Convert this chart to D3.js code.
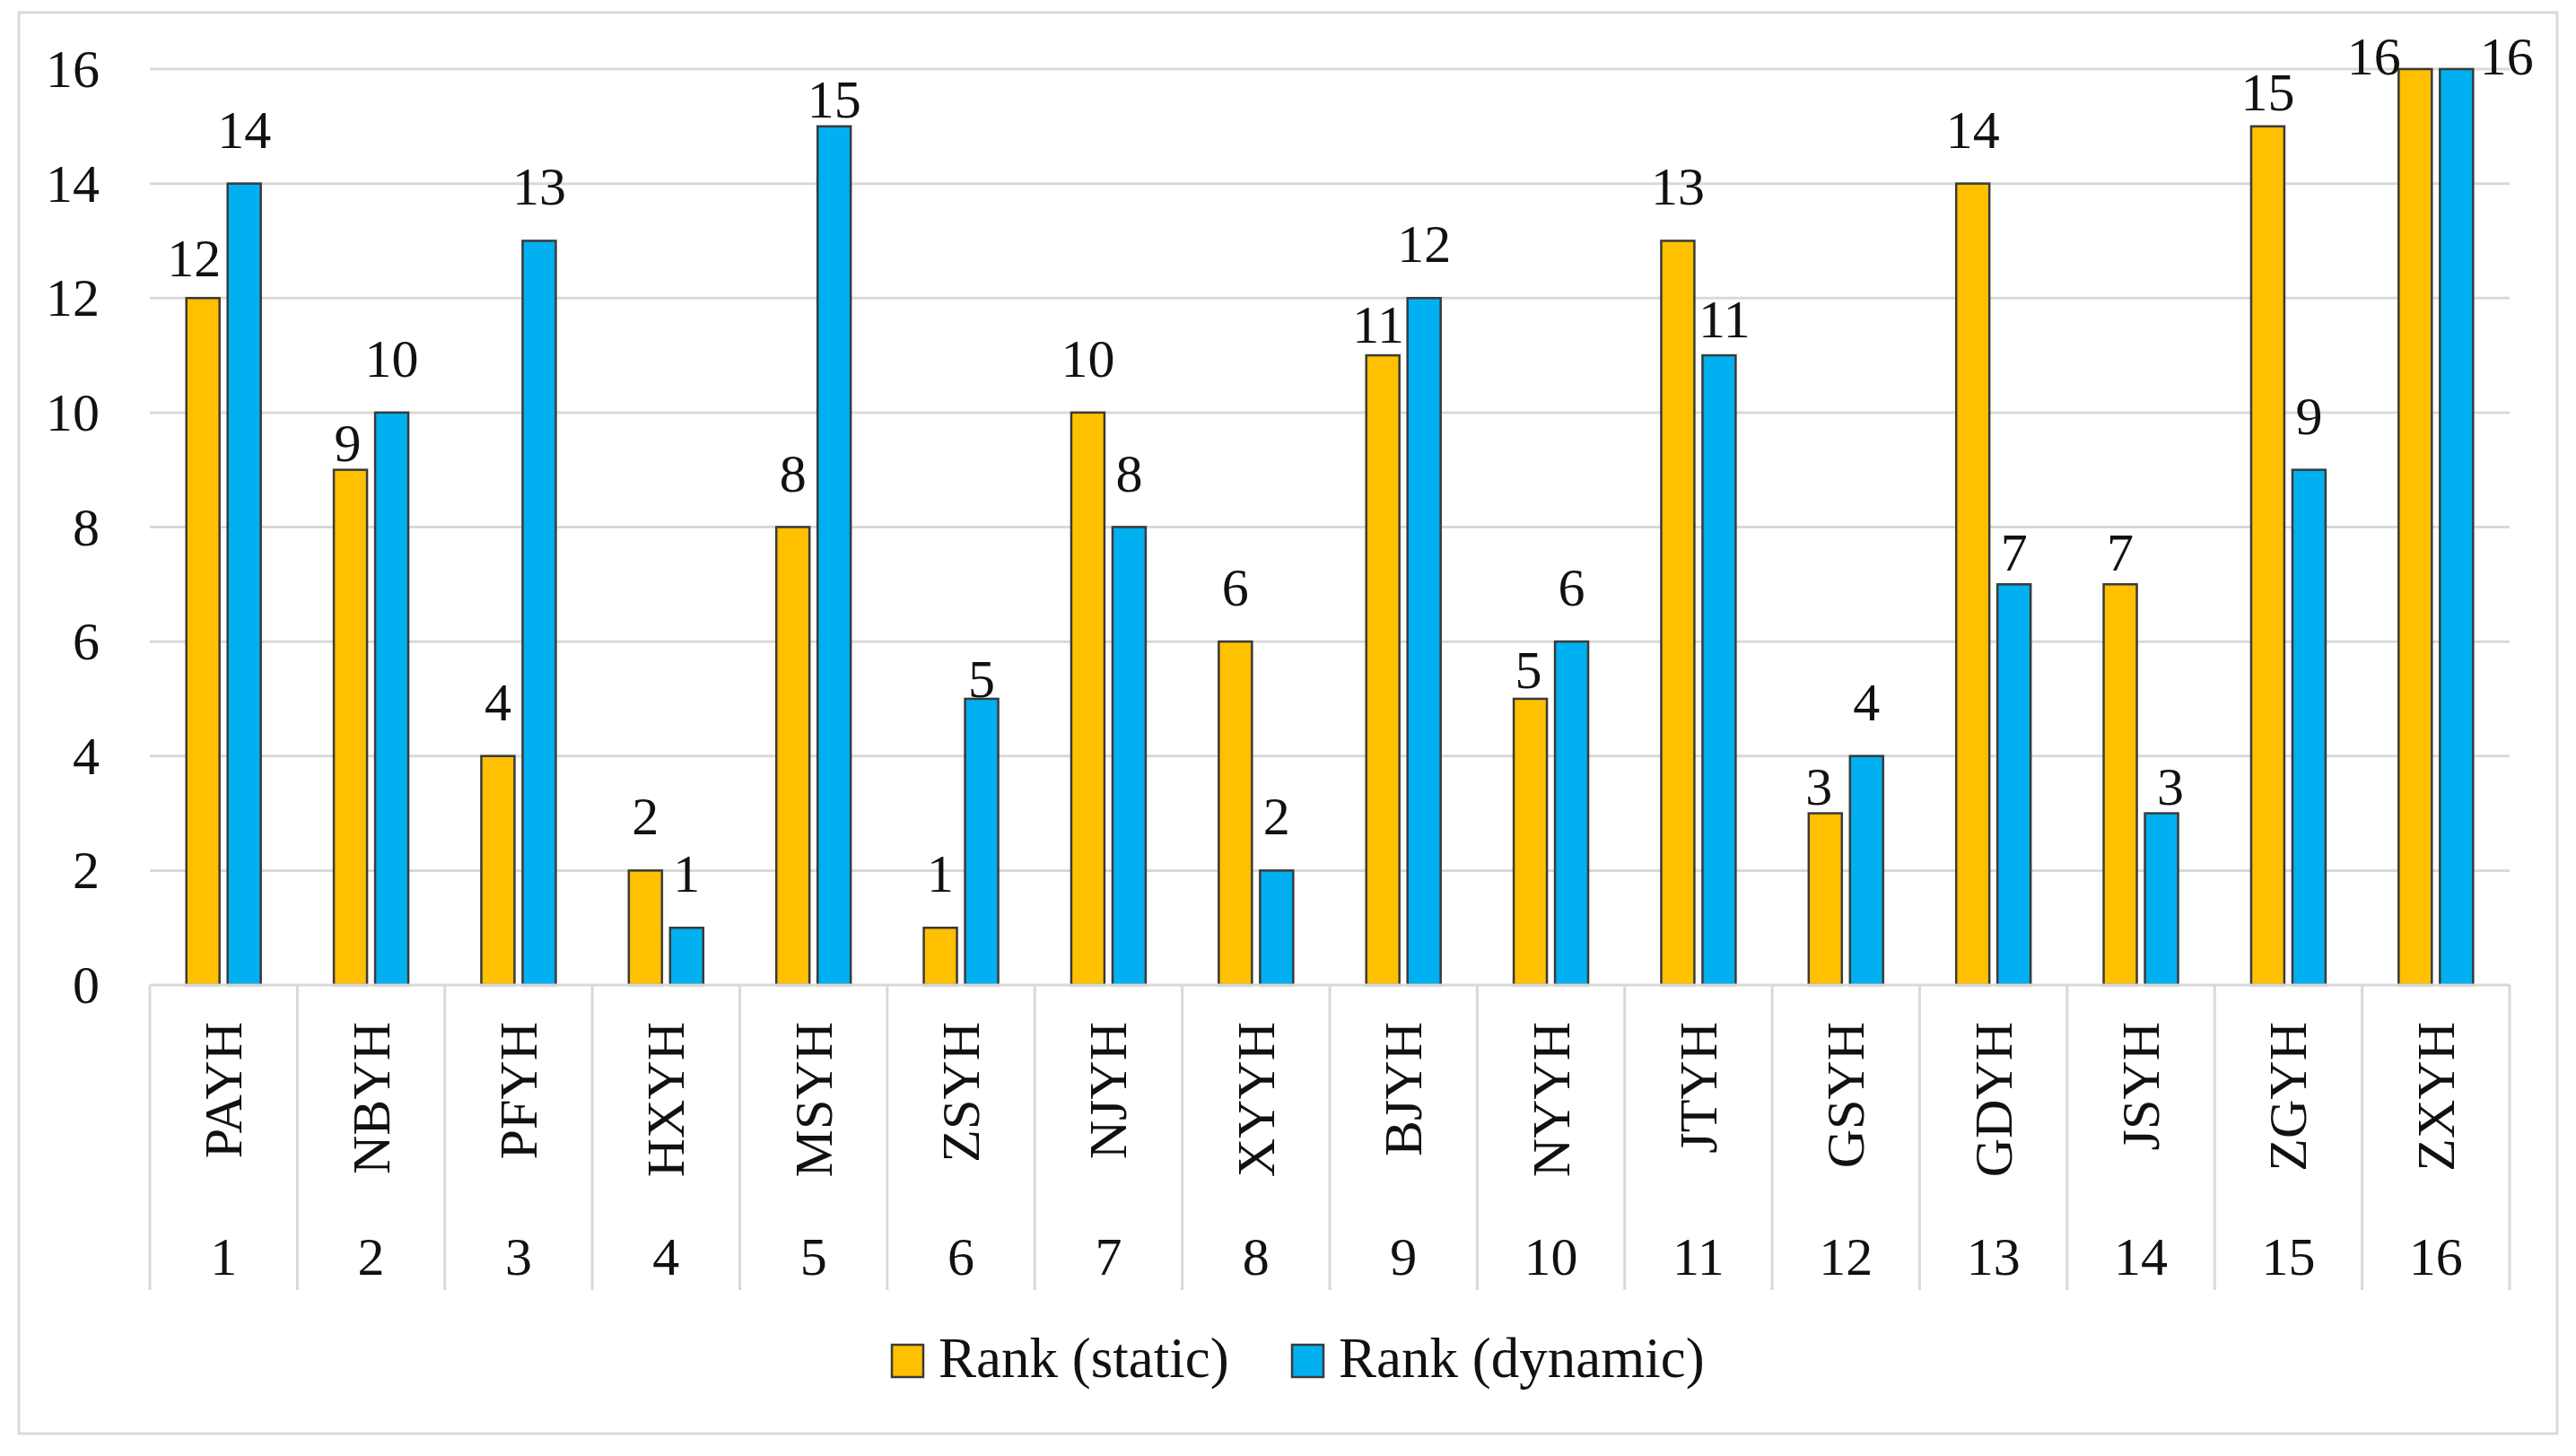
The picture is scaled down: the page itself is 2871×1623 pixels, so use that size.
<!DOCTYPE html>
<html>
<head>
<meta charset="utf-8">
<script src="https://cdn.jsdelivr.net/npm/d3@7"></script>
<style>
  body { margin: 0; background: #fff; }
  text { font-family: "Palatino Linotype", "Book Antiqua", Palatino, "Liberation Serif", serif; fill: #111; }
</style>
</head>
<body>
<div id="chart"></div>
<script>
// data
var categories = ["PAYH", "NBYH", "PFYH", "HXYH", "MSYH", "ZSYH", "NJYH", "XYYH",
                  "BJYH", "NYYH", "JTYH", "GSYH", "GDYH", "JSYH", "ZGYH", "ZXYH"];
var catNumbers = ["1", "2", "3", "4", "5", "6", "7", "8", "9", "10", "11", "12", "13", "14", "15", "16"];
var rankStatic  = [12, 9, 4, 2, 8, 1, 10, 6, 11, 5, 13, 3, 14, 7, 15, 16];
var rankDynamic = [14, 10, 13, 1, 15, 5, 8, 2, 12, 6, 11, 4, 7, 3, 9, 16];
var seriesNames = ["Rank (static)", "Rank (dynamic)"];
var yTicks = [0, 2, 4, 6, 8, 10, 12, 14, 16];

var colors = ["#FFC000", "#00B0F0"];

// set the dimensions of the graph
var width = 2871;
var height = 1623;
var fontSize = 60;

var svg = d3.select("#chart")
  .append("svg")
    .attr("width", width)
    .attr("height", height);

// outer frame
svg.append("rect")
  .attr("x", 21).attr("y", 14)
  .attr("width", 2829).attr("height", 1584)
  .attr("fill", "none")
  .attr("stroke", "#d9d9d9")
  .attr("stroke-width", 3);

var x = d3.scaleBand()
  .domain(categories)
  .range([167, 2797])
  .padding(0);

var xInner = d3.scaleBand()
  .domain([0, 1])
  .range([0, x.bandwidth()])
  .paddingInner(0.196)
  .paddingOuter(0.885);

var y = d3.scaleLinear()
  .domain([0, 16])
  .range([1098, 77]);

// gridlines
svg.append("g")
  .selectAll("line")
  .data(yTicks.filter(d => d > 0))
  .enter()
  .append("line")
    .attr("x1", 167).attr("x2", 2797)
    .attr("y1", d => y(d)).attr("y2", d => y(d))
    .attr("stroke", "#d9d9d9")
    .attr("stroke-width", 3);

// y tick labels
svg.append("g")
  .selectAll("text")
  .data(yTicks)
  .enter()
  .append("text")
    .attr("x", 111)
    .attr("y", d => y(d))
    .attr("text-anchor", "end")
    .attr("dominant-baseline", "central")
    .style("font-size", fontSize + "px")
    .text(d => d);

// bars
var series = [rankStatic, rankDynamic];
var barData = [];
categories.forEach(function (c, i) {
  series.forEach(function (s, k) {
    barData.push({ cat: c, i: i, k: k, value: s[i] });
  });
});

svg.append("g")
  .selectAll("rect")
  .data(barData)
  .enter()
  .append("rect")
    .attr("x", d => x(d.cat) + xInner(d.k))
    .attr("y", d => y(d.value))
    .attr("width", xInner.bandwidth())
    .attr("height", d => y(0) - y(d.value))
    .attr("fill", d => colors[d.k])
    .attr("stroke", "#3a3a3a")
    .attr("stroke-width", 2.5);

// category axis line and cell separators
svg.append("line")
  .attr("x1", 167).attr("x2", 2797)
  .attr("y1", y(0)).attr("y2", y(0))
  .attr("stroke", "#d9d9d9")
  .attr("stroke-width", 3);

var edges = categories.map(c => x(c)).concat([x.range()[1]]);
svg.append("g")
  .selectAll("line")
  .data(edges)
  .enter()
  .append("line")
    .attr("x1", d => d).attr("x2", d => d)
    .attr("y1", y(0)).attr("y2", 1438)
    .attr("stroke", "#d9d9d9")
    .attr("stroke-width", 3);

// category names (rotated) and numbers
svg.append("g")
  .selectAll("text")
  .data(categories)
  .enter()
  .append("text")
    .attr("transform", d => "translate(" + (x(d) + x.bandwidth() / 2) + ",1139) rotate(-90)")
    .attr("text-anchor", "end")
    .attr("dominant-baseline", "central")
    .style("font-size", fontSize + "px")
    .text(d => d);

svg.append("g")
  .selectAll("text")
  .data(catNumbers)
  .enter()
  .append("text")
    .attr("x", (d, i) => x(categories[i]) + x.bandwidth() / 2)
    .attr("y", 1421)
    .attr("text-anchor", "middle")
    .style("font-size", fontSize + "px")
    .text(d => d);

// data labels; nudges copy the hand-moved labels of the original
var labelNudge = [
  [[-10, 16], [0, 0]], [[-3, 30], [0, 0]], [[0, 0], [0, 0]], [[0, 0], [0, 0]],
  [[0, 0], [0, 30]], [[0, 0], [0, 38]], [[0, 0], [0, 0]], [[0, 0], [0, 0]],
  [[-5, 26], [0, 0]], [[-2, 28], [0, 0]], [[0, 0], [6, 20]], [[-7, 30], [0, 0]],
  [[0, 0], [0, 25]], [[0, 25], [10, 30]], [[0, 22], [0, 0]], [[-46, 46], [56, 46]]
];

svg.append("g")
  .selectAll("text")
  .data(barData)
  .enter()
  .append("text")
    .attr("x", d => x(d.cat) + xInner(d.k) + xInner.bandwidth() / 2 + labelNudge[d.i][d.k][0])
    .attr("y", d => y(d.value) - 40 + labelNudge[d.i][d.k][1])
    .attr("text-anchor", "middle")
    .style("font-size", fontSize + "px")
    .text(d => d.value);

// legend
var legendX = [994, 1440];
var legend = svg.append("g")
  .selectAll("g")
  .data(seriesNames)
  .enter()
  .append("g")
    .attr("transform", (d, i) => "translate(" + legendX[i] + ",1499)");

legend.append("rect")
  .attr("width", 35)
  .attr("height", 36)
  .attr("fill", (d, i) => colors[i])
  .attr("stroke", "#3a3a3a")
  .attr("stroke-width", 2.5);

legend.append("text")
  .attr("x", 52)
  .attr("y", 36)
  .style("font-size", "63px")
  .text(d => d);
</script>
</body>
</html>
